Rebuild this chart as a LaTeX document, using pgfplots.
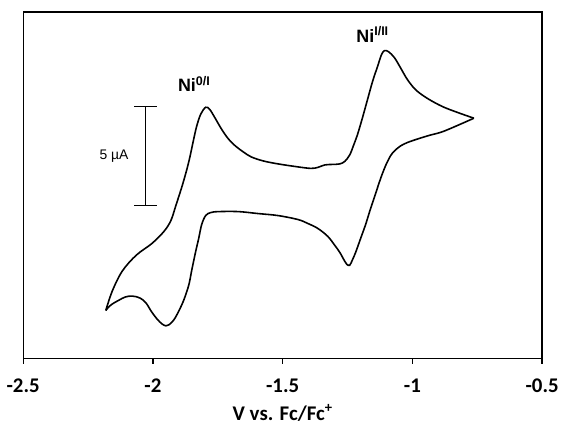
\documentclass[border=0pt]{standalone}
\usepackage{fontspec}
\setmainfont{Carlito}
\newfontfamily\arial{Liberation Sans}
\usepackage{pgfplots}
\pgfplotsset{compat=1.18}

\begin{document}
\begin{tikzpicture}
\begin{axis}[
  scale only axis, width=522.4pt, height=349pt,
  xmin=-2.5, xmax=-0.5, ymin=0, ymax=17.45,
  xtick={-2.5,-2,-1.5,-1,-0.5},
  xticklabels={-2.5,-2,-1.5,-1,-0.5},
  ytick=\empty, xtick pos=bottom,
  tick align=outside, major tick length=5pt,
  axis line style={line width=1.3pt},
  every tick/.style={line width=1.3pt,black},
  xticklabel style={font=\bfseries\fontsize{21}{21}\selectfont,yshift=-12pt},
  xlabel={V vs. Fc/Fc\textsuperscript{+}},
  xlabel style={font=\bfseries\fontsize{21}{21}\selectfont,yshift=-5pt},
  clip=false,
]
% forward (upper) branch, left vertex to right vertex
\addplot[black,line width=1.6pt,smooth,tension=0.55] coordinates {
(-2.1815,2.425)(-2.1566,3.4)(-2.1183,4.4)(-2.0647,5.2)(-2.0034,5.8)
(-1.9575,6.4)(-1.9307,6.95)(-1.9116,7.7)(-1.8848,8.8)(-1.8618,9.9)
(-1.8427,11.05)(-1.8312,11.7)(-1.8158,12.3)(-1.7967,12.65)(-1.7814,12.55)
(-1.7622,12.15)(-1.7354,11.55)(-1.7086,11.05)(-1.6818,10.7)(-1.6512,10.4)
(-1.6206,10.15)(-1.5747,9.95)(-1.5172,9.8)(-1.4407,9.65)(-1.3909,9.575)
(-1.3641,9.625)(-1.3373,9.75)(-1.3067,9.775)(-1.2799,9.8)(-1.2607,9.925)
(-1.2416,10.25)(-1.2263,10.75)(-1.2110,11.3)(-1.1918,12.15)(-1.1727,13.05)
(-1.1535,13.95)(-1.1344,14.7)(-1.1190,15.3)(-1.1076,15.5)(-1.0922,15.45)
(-1.0693,15.15)(-1.0463,14.65)(-1.0195,14.05)(-0.9889,13.55)(-0.9544,13.2)
(-0.9162,12.9)(-0.8779,12.65)(-0.8281,12.4)(-0.7630,12.1)};
% reverse (lower) branch, right vertex back to left vertex
\addplot[black,line width=1.6pt,smooth,tension=0.55] coordinates {
(-0.7630,12.1)(-0.8779,11.45)(-0.9315,11.25)(-0.9812,11.05)(-1.0195,10.875)
(-1.0463,10.7)(-1.0693,10.45)(-1.0846,10.2)(-1.1037,9.7)(-1.1229,9.05)
(-1.1420,8.3)(-1.1612,7.55)(-1.1803,6.75)(-1.1995,6.05)(-1.2186,5.35)
(-1.2301,5.0)(-1.2416,4.7)(-1.2531,4.75)(-1.2607,4.9)(-1.2799,5.35)
(-1.2990,5.7)(-1.3258,6.15)(-1.3641,6.55)(-1.4024,6.8)(-1.4407,7.0)
(-1.5172,7.2)(-1.5938,7.3)(-1.6704,7.4)(-1.7469,7.4)(-1.7776,7.35)
(-1.7967,7.2)(-1.8120,6.75)(-1.8235,6.05)(-1.8350,5.4)(-1.8503,4.45)
(-1.8618,3.7)(-1.8809,2.95)(-1.9001,2.4)(-1.9192,1.95)(-1.9384,1.7)
(-1.9499,1.65)(-1.9652,1.75)(-1.9843,2.0)(-2.0073,2.4)(-2.0264,2.8)
(-2.0494,3.05)(-2.0800,3.15)(-2.1068,3.1)(-2.1298,2.95)(-2.1566,2.75)
(-2.1719,2.575)(-2.1815,2.425)};
% 5 uA scale bar
\addplot[black,line width=0.8pt] coordinates {(-2.0276,12.685)(-2.0276,7.715)};
\addplot[black,line width=0.8pt] coordinates {(-2.0724,12.685)(-1.9855,12.685)};
\addplot[black,line width=0.8pt] coordinates {(-2.0724,7.715)(-1.9855,7.715)};
\node[font=\arial\fontsize{14}{14}\selectfont] at (axis cs:-2.150,10.2) {5 µA};
\node[font=\arial\bfseries\fontsize{18}{18}\selectfont,anchor=base] at (axis cs:-1.841,13.45) {Ni\textsuperscript{0/I}};
\node[font=\arial\bfseries\fontsize{18}{18}\selectfont,anchor=base] at (axis cs:-1.1535,15.935) {Ni\textsuperscript{I/II}};
\end{axis}
\path (current axis.south west)++(-23.3pt,-69pt) (current axis.north east)++(16.3pt,12pt);
\end{tikzpicture}
\end{document}
